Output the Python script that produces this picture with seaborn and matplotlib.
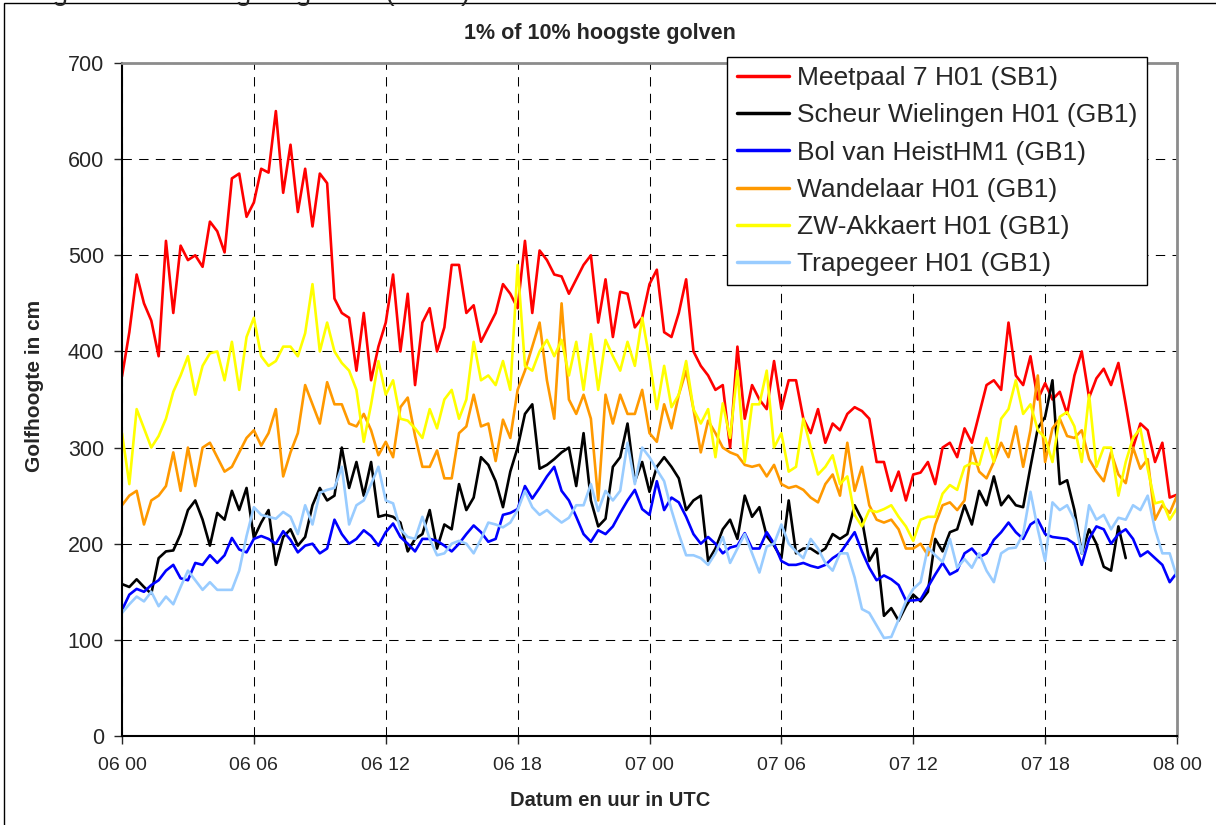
import numpy as np
import pandas as pd
import seaborn as sns
import matplotlib.pyplot as plt
from matplotlib.patches import Rectangle

# hours after 06 00 UTC, one value every 20 minutes
hours = np.arange(145) / 3

tick_hours = [0, 6, 12, 18, 24, 30, 36, 42, 48]
tick_labels = ["06 00", "06 06", "06 12", "06 18", "07 00", "07 06", "07 12", "07 18", "08 00"]

meetpaal = [374, 420, 480, 450, 432, 395, 515, 440, 510, 495,
            500, 488, 535, 525, 503, 580, 585, 540, 555, 590,
            586, 650, 565, 615, 545, 590, 530, 585, 575, 455,
            440, 435, 380, 440, 370, 405, 430, 480, 400, 460,
            365, 430, 445, 400, 425, 490, 490, 440, 448, 410,
            425, 440, 470, 460, 445, 515, 440, 505, 495, 480,
            478, 460, 475, 490, 500, 430, 475, 415, 462, 460,
            425, 435, 470, 485, 420, 415, 440, 475, 400, 385,
            375, 360, 365, 300, 405, 330, 365, 350, 340, 390,
            340, 370, 370, 330, 315, 340, 305, 325, 318, 335,
            342, 338, 330, 285, 285, 255, 275, 245, 272, 274,
            285, 262, 300, 305, 290, 320, 305, 335, 365, 370,
            360, 430, 375, 365, 395, 350, 367, 350, 358, 335,
            375, 400, 352, 372, 382, 365, 388, 345, 300, 325,
            318, 285, 305, 248, 251]

scheur = [158, 155, 163, 155, 148, 185, 192, 193, 210, 235,
          245, 225, 198, 232, 225, 255, 235, 258, 206, 222,
          235, 178, 207, 215, 198, 207, 240, 258, 245, 250,
          300, 258, 285, 250, 285, 228, 230, 228, 222, 192,
          205, 210, 235, 195, 220, 215, 262, 235, 248, 290,
          282, 265, 238, 275, 300, 335, 345, 278, 282, 288,
          295, 300, 260, 315, 245, 218, 226, 280, 290, 325,
          265, 285, 254, 280, 290, 280, 268, 235, 245, 250,
          182, 195, 215, 225, 205, 250, 228, 238, 208, 198,
          185, 245, 190, 195, 195, 190, 195, 210, 205, 210,
          240, 225, 182, 195, 125, 133, 120, 135, 147, 140,
          150, 205, 192, 212, 215, 240, 220, 255, 240, 270,
          240, 250, 240, 238, 280, 320, 332, 370, 262, 266,
          235, 190, 215, 200, 176, 172, 218, 185]

bol = [131, 147, 153, 150, 157, 162, 172, 178, 164, 162,
       180, 178, 188, 180, 188, 206, 194, 191, 205, 208,
       205, 200, 213, 204, 191, 198, 200, 190, 195, 225,
       210, 200, 205, 214, 208, 198, 212, 221, 207, 200,
       192, 205, 205, 203, 198, 192, 200, 210, 219, 212,
       202, 205, 230, 232, 236, 260, 247, 258, 270, 280,
       255, 245, 228, 210, 202, 214, 210, 218, 232, 245,
       256, 236, 230, 265, 235, 248, 243, 228, 210, 200,
       207, 200, 190, 196, 198, 211, 195, 195, 212, 200,
       182, 178, 178, 180, 177, 175, 178, 185, 190, 201,
       212, 192, 175, 162, 167, 163, 157, 141, 141, 142,
       155, 168, 180, 168, 172, 190, 195, 186, 190, 204,
       212, 222, 212, 205, 220, 225, 210, 207, 206, 205,
       200, 178, 205, 218, 215, 200, 210, 215, 205, 187,
       192, 185, 178, 160, 170]

wandelaar = [240, 250, 255, 220, 245, 250, 260, 295, 255, 300,
             260, 300, 305, 290, 275, 280, 295, 310, 318, 302,
             315, 340, 270, 295, 315, 365, 345, 325, 368, 345,
             345, 325, 322, 335, 318, 292, 306, 290, 342, 352,
             312, 280, 280, 297, 268, 268, 315, 322, 355, 322,
             325, 286, 329, 310, 360, 380, 405, 430, 370, 330,
             450, 350, 335, 355, 330, 245, 355, 325, 355, 335,
             335, 360, 315, 306, 345, 320, 355, 380, 340, 295,
             328, 315, 300, 295, 292, 282, 280, 282, 270, 282,
             262, 258, 260, 256, 248, 243, 262, 272, 250, 305,
             255, 280, 240, 225, 222, 225, 215, 195, 195, 200,
             188, 220, 240, 243, 235, 245, 300, 275, 268, 285,
             305, 290, 322, 280, 318, 375, 285, 320, 330, 312,
             310, 318, 288, 275, 265, 295, 272, 263, 300, 278,
             288, 225, 240, 232, 250]

akkaert = [315, 262, 340, 320, 300, 312, 330, 358, 375, 395,
           355, 385, 398, 400, 370, 410, 360, 415, 435, 395,
           385, 390, 405, 405, 395, 419, 470, 400, 430, 400,
           388, 380, 360, 306, 345, 390, 355, 370, 330, 328,
           320, 310, 340, 320, 350, 360, 330, 350, 410, 370,
           375, 365, 390, 360, 490, 385, 380, 400, 412, 395,
           412, 375, 410, 360, 418, 360, 412, 395, 380, 410,
           385, 435, 392, 340, 385, 342, 355, 390, 340, 325,
           340, 290, 346, 310, 380, 285, 345, 345, 380, 300,
           315, 275, 280, 330, 300, 272, 280, 292, 262, 270,
           230, 218, 235, 233, 236, 240, 228, 218, 203, 225,
           228, 228, 252, 261, 256, 280, 284, 282, 310, 285,
           330, 340, 370, 335, 345, 318, 310, 285, 332, 337,
           322, 285, 355, 280, 300, 300, 250, 285, 310, 320,
           278, 242, 244, 225, 237]

trapegeer = [128, 137, 145, 140, 150, 135, 145, 137, 155, 172,
             162, 152, 160, 152, 152, 152, 172, 208, 238, 230,
             228, 226, 233, 228, 210, 240, 220, 253, 256, 258,
             280, 220, 240, 245, 262, 280, 245, 242, 215, 207,
             205, 228, 205, 188, 190, 200, 203, 200, 190, 205,
             222, 220, 217, 222, 235, 255, 238, 230, 235, 228,
             222, 227, 240, 240, 262, 234, 255, 245, 255, 305,
             262, 300, 290, 277, 265, 235, 210, 188, 188, 185,
             178, 190, 207, 180, 195, 210, 190, 170, 197, 200,
             220, 200, 192, 185, 205, 195, 180, 172, 190, 190,
             165, 132, 128, 115, 102, 103, 121, 140, 153, 160,
             196, 188, 181, 205, 175, 184, 175, 190, 172, 160,
             190, 195, 196, 210, 254, 215, 182, 243, 235, 240,
             225, 190, 240, 225, 230, 215, 227, 225, 240, 235,
             250, 215, 190, 190, 165]

stations = ["Meetpaal 7 H01 (SB1)", "Scheur Wielingen H01 (GB1)", "Bol van HeistHM1 (GB1)",
            "Wandelaar H01 (GB1)", "ZW-Akkaert H01 (GB1)", "Trapegeer H01 (GB1)"]
values = [meetpaal, scheur, bol, wandelaar, akkaert, trapegeer]
colors = ["#ff0000", "#000000", "#0000ff", "#ff9900", "#ffff00", "#99ccff"]

frames = []
for name, vals in zip(stations, values):
    frames.append(pd.DataFrame({"uur": hours[:len(vals)], "golfhoogte": vals, "station": name}))
df = pd.concat(frames, ignore_index=True)

sns.set_style("white")
plt.rcParams['font.family'] = ['Liberation Sans', 'DejaVu Sans']

fig = plt.figure(figsize=(12.16, 8.25), dpi=100)
ax = fig.add_axes([122/1216, 1 - 736/825, (1177 - 122)/1216, (736 - 63)/825])

sns.lineplot(data=df, x="uur", y="golfhoogte", hue="station", hue_order=stations,
             palette=dict(zip(stations, colors)), linewidth=1.9, sort=False,
             errorbar=None, ax=ax)
for line in ax.get_lines():
    line.set_solid_joinstyle('round')
    line.set_solid_capstyle('round')

ax.set_xlim(0, 48)
ax.set_ylim(0, 700)
ax.set_xticks(tick_hours)
ax.set_xticklabels(tick_labels, fontsize=14)
ax.set_yticks(range(0, 701, 100))
ax.tick_params(axis='y', labelsize=15.5, direction='out', length=6, width=1, pad=7, left=True)
ax.tick_params(axis='x', direction='out', length=6, width=1, pad=9, bottom=True)
ax.set_xlabel("")
ax.set_ylabel("")
ax.set_axisbelow(True)
ax.grid(True, color='black', linestyle=(0, (9, 7)), linewidth=0.75)

for side in ['left', 'bottom']:
    ax.spines[side].set_color('black')
    ax.spines[side].set_linewidth(1.5)
for side in ['top', 'right']:
    ax.spines[side].set_color('#8c8c8c')
    ax.spines[side].set_linewidth(2)

handles, labels = ax.get_legend_handles_labels()
leg = ax.legend(handles, labels, loc='upper right', bbox_to_anchor=(1147/1216, 1 - 57/825),
                bbox_transform=fig.transFigure, frameon=True, fancybox=False, framealpha=1,
                edgecolor='black', fontsize=19, handlelength=2.0, handletextpad=0.3,
                labelspacing=0.5, borderpad=0.35, borderaxespad=0)
leg.get_frame().set_linewidth(1)
for line in leg.get_lines():
    line.set_linewidth(2.5)

fig.text(600/1216, 1 - 33/825, "1% of 10% hoogste golven", ha='center', va='center',
         fontsize=15.5, fontweight='bold')
fig.text(610/1216, 1 - 800/825, "Datum en uur in UTC", ha='center', va='center',
         fontsize=14.5, fontweight='bold')
fig.text(35/1216, 1 - 386/825, "Golfhoogte in cm", ha='center', va='center',
         rotation=90, fontsize=15, fontweight='bold')
fig.text(2/1216, 1.0, "Hoogte van de hoogste golven (in cm)", ha='left', va='baseline',
         fontsize=20)

fig.patches.append(Rectangle((4/1216, -0.1), 2, 1.1 - 3/825, transform=fig.transFigure,
                             fill=False, edgecolor='black', linewidth=1))

fig.savefig("out.png", dpi=100)
